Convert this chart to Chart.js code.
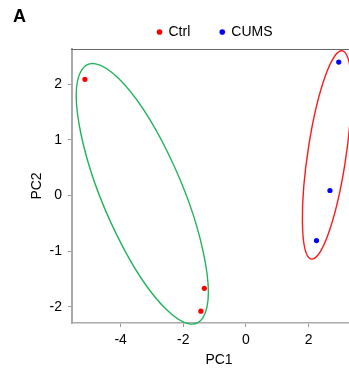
<!DOCTYPE html>
<html>
<head>
<meta charset="utf-8">
<script src="https://cdn.jsdelivr.net/npm/chart.js@4"></script>
<style>
	html, body { margin: 0; padding: 0; background: #fff; overflow: hidden; }
	#wrap { width: 349px; height: 374px; overflow: hidden; }
</style>
</head>
<body>
<div id="wrap"><canvas id="pca" width="370" height="374"></canvas></div>
<script>
	// group labels and scores
	var groups = ['Ctrl', 'CUMS'];
	var ctrlPC1 = [-5.14, -1.33, -1.44];
	var ctrlPC2 = [2.09, -1.67, -2.08];
	var cumsPC1 = [2.96, 2.68, 2.25];
	var cumsPC2 = [2.40, 0.09, -0.81];

	// confidence ellipses (data units): centre, semi-axes, angle in degrees
	var ellipseCX = [-3.31, 2.58];
	var ellipseCY = [0.03, 0.73];
	var ellipseA = [2.95, 1.94];
	var ellipseB = [1.10, 0.60];
	var ellipseAngle = [-49.1, 74.3];
	var ellipseColors = ['#22b35b', '#ff1a1a'];

	var xTicks = [-4, -2, 0, 2];
	var yTicks = [-2, -1, 0, 1, 2];

	function toPoints(xs, ys) {
		return xs.map(function (x, i) { return { x: x, y: ys[i] }; });
	}

	Chart.defaults.font.family = '"Liberation Sans", Arial, sans-serif';
	Chart.defaults.font.size = 14;
	Chart.defaults.color = '#000';

	// ellipses drawn through the scales
	var ellipsePlugin = {
		id: 'ellipses',
		beforeDatasetsDraw: function (chart) {
			var ctx = chart.ctx, xs = chart.scales.x, ys = chart.scales.y, area = chart.chartArea;
			ctx.save();
			ctx.beginPath();
			ctx.rect(area.left - 2, area.top - 2, area.right - area.left + 4, area.bottom - area.top + 4);
			ctx.clip();
			for (var i = 0; i < ellipseCX.length; i++) {
				var t = ellipseAngle[i] * Math.PI / 180;
				var cx = xs.getPixelForValue(ellipseCX[i]);
				var cy = ys.getPixelForValue(ellipseCY[i]);
				var ux = xs.getPixelForValue(ellipseCX[i] + ellipseA[i] * Math.cos(t)) - cx;
				var uy = ys.getPixelForValue(ellipseCY[i] + ellipseA[i] * Math.sin(t)) - cy;
				var vx = xs.getPixelForValue(ellipseCX[i] - ellipseB[i] * Math.sin(t)) - cx;
				var vy = ys.getPixelForValue(ellipseCY[i] + ellipseB[i] * Math.cos(t)) - cy;
				ctx.save();
				ctx.beginPath();
				ctx.transform(ux, uy, vx, vy, cx, cy);
				ctx.arc(0, 0, 1, 0, Math.PI * 2);
				ctx.restore();
				ctx.strokeStyle = ellipseColors[i];
				ctx.lineWidth = 1.4;
				ctx.stroke();
			}
			ctx.restore();
		},
		afterDraw: function (chart) {
			var ctx = chart.ctx, area = chart.chartArea;
			ctx.save();
			// top frame line
			ctx.strokeStyle = '#666';
			ctx.lineWidth = 1.2;
			ctx.beginPath();
			ctx.moveTo(area.left - 1, area.top + 0.5);
			ctx.lineTo(area.right, area.top + 0.5);
			ctx.stroke();
			// panel letter
			ctx.fillStyle = '#000';
			ctx.font = 'bold 18px "Liberation Sans", Arial, sans-serif';
			ctx.textBaseline = 'top';
			ctx.fillText('A', 13, 8);
			ctx.restore();
		},
		afterInit: function (chart) {
			var lg = chart.legend;
			var fit = lg.fit;
			lg.fit = function () {
				fit.call(this);
				this.height = 35;
			};
		},
		afterLayout: function (chart) {
			// centre legend over the panel, a little higher
			chart.legend.left = chart.chartArea.left - 8;
			chart.legend.right = chart.chartArea.right;
			chart.legend.top = -5;
		}
	};

	var ctx = document.getElementById('pca').getContext('2d');
	var pcaChart = new Chart(ctx, {
		type: 'scatter',
		data: {
			datasets: [
				{
					label: groups[0],
					data: toPoints(ctrlPC1, ctrlPC2),
					backgroundColor: '#ff0000',
					borderColor: '#ff0000',
					pointRadius: 2.6,
					borderWidth: 0,
				},
				{
					label: groups[1],
					data: toPoints(cumsPC1, cumsPC2),
					backgroundColor: '#0000ff',
					borderColor: '#0000ff',
					pointRadius: 2.6,
					borderWidth: 0,
				},
			],
		},
		options: {
			responsive: false,
			animation: false,
			layout: { padding: { top: 14, left: 0, right: 2, bottom: 0 } },
			plugins: {
				tooltip: { enabled: false },
				legend: {
					position: 'top',
					labels: {
						usePointStyle: true,
						boxWidth: 4,
						boxHeight: 4,
						padding: 30,
						color: '#000',
						font: { size: 14 },
					},
				},
			},
			scales: {
				x: {
					type: 'linear',
					min: -5.553,
					max: 3.83,
					afterFit: function (s) { s.height = 51; },
					afterBuildTicks: function (s) { s.ticks = xTicks.map(function (v) { return { value: v }; }); },
					ticks: { padding: 5, color: '#000', font: { size: 14 } },
					grid: { drawOnChartArea: false, drawTicks: true, tickLength: 4, color: '#999', lineWidth: 1 },
					border: { display: true, color: '#aaa', width: 1.5 },
					title: { display: true, text: 'PC1', color: '#000', font: { size: 14 }, padding: { top: 0, bottom: 5.6 } },
				},
				y: {
					type: 'linear',
					min: -2.293,
					max: 2.635,
					afterFit: function (s) { s.width = 72; },
					afterBuildTicks: function (s) { s.ticks = yTicks.map(function (v) { return { value: v }; }); },
					ticks: { padding: 6, color: '#000', font: { size: 14 } },
					grid: { drawOnChartArea: false, drawTicks: true, tickLength: 4, color: '#999', lineWidth: 1 },
					border: { display: true, color: '#aaa', width: 2 },
					title: { display: true, text: 'PC2', color: '#000', font: { size: 14 }, padding: { top: 28.6, bottom: 0 } },
				},
			},
		},
		plugins: [ellipsePlugin],
	});
</script>
</body>
</html>
